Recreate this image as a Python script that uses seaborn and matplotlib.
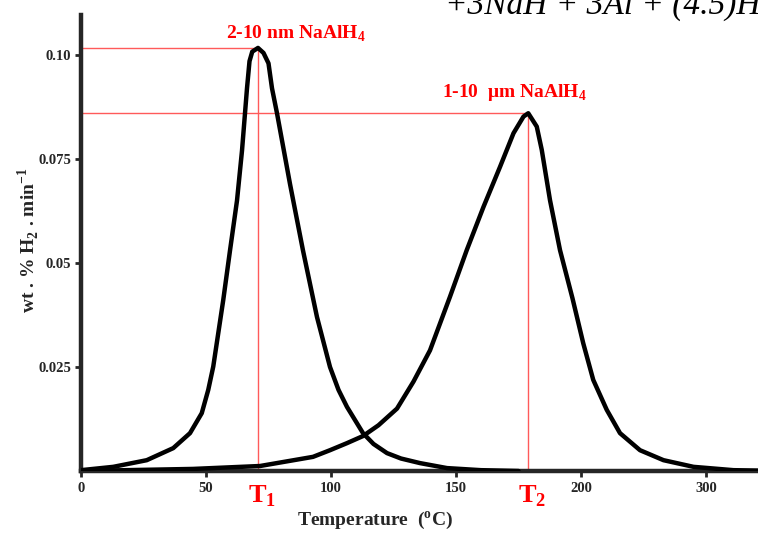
import numpy as np
import pandas as pd
import matplotlib
matplotlib.use("Agg")
import matplotlib.pyplot as plt
import seaborn as sns

# ---- data (x in plotted axis units) ----
temp_nano = [0, 12.9, 26.3, 36.9, 43.6, 48.3, 50.9, 52.9, 54.9, 56.9, 59.6,
             62.4, 64.4, 65.6, 66.4, 67.4, 68.5, 70.8, 73.0, 75.0, 76.4, 78.4,
             83.6, 88.8, 94.4, 99.6, 103.0, 106.4, 112.8, 117.0, 122.4, 128.0,
             135.6, 146.4, 160, 175]
rate_nano = [0.0002, 0.001, 0.0026, 0.0055, 0.0091, 0.0139, 0.0195, 0.0251,
             0.0331, 0.0411, 0.053, 0.065, 0.077, 0.086, 0.092, 0.0985, 0.1008,
             0.1017, 0.1005, 0.098, 0.092, 0.086, 0.069, 0.053, 0.037, 0.025,
             0.0195, 0.0154, 0.0091, 0.0065, 0.0043, 0.003, 0.0019, 0.0007,
             0.0002, 0.0]

temp_micro = [0, 44.8, 71.6, 92.8, 99.6, 106.4, 112.8, 119.0, 126.4, 133.0,
              139.6, 147.6, 154.3, 161.0, 167.6, 173.0, 177.0, 178.9, 182.3,
              184.3, 187.6, 191.6, 196.6, 200.9, 204.9, 210.3, 215.6, 223.6,
              233.0, 245.0, 261.0, 270.8]
rate_micro = [0.0, 0.0005, 0.0012, 0.0034, 0.005, 0.0067, 0.0084, 0.011, 0.015,
              0.0215, 0.029, 0.0419, 0.0531, 0.0635, 0.0731, 0.0812, 0.0852,
              0.086, 0.0828, 0.0772, 0.0651, 0.0531, 0.0415, 0.0307, 0.0219,
              0.0147, 0.0091, 0.005, 0.0026, 0.001, 0.0002, 0.0001]

peak_x = [70.8, 178.9]
peak_y = [0.1017, 0.0860]
peak_names = ["T$_\\mathbf{1}$", "T$_\\mathbf{2}$"]

xtick_pos = [0, 50, 100, 150, 200, 250]
xtick_lab = ["0", "50", "100", "150", "200", "300"]
ytick_pos = [0.025, 0.05, 0.075, 0.10]
ytick_lab = ["0.025", "0.05", "0.075", "0.10"]

# ---- style ----
sns.set_style("ticks")
plt.rcParams["font.family"] = ["Liberation Serif", "DejaVu Serif"]
plt.rcParams["font.weight"] = "bold"
plt.rcParams["mathtext.fontset"] = "custom"
plt.rcParams["mathtext.rm"] = "Liberation Serif:bold"
plt.rcParams["mathtext.bf"] = "Liberation Serif:bold"

fig = plt.figure(figsize=(7.58, 5.33), dpi=100)
ax = fig.add_axes([81 / 758, 62 / 533, 1 - 81 / 758, (471 - 15) / 533])

nano = pd.DataFrame({"temp": temp_nano, "rate": rate_nano})
micro = pd.DataFrame({"temp": temp_micro, "rate": rate_micro})
sns.lineplot(data=nano, x="temp", y="rate", color="black", lw=3.2, ax=ax,
             sort=False, zorder=3)
sns.lineplot(data=micro, x="temp", y="rate", color="black", lw=3.2, ax=ax,
             sort=False, zorder=3)

# red guide lines to the peaks
red = "#ff5a5a"
for px, py in zip(peak_x, peak_y):
    ax.plot([0, px], [py, py], color=red, lw=1, zorder=2)
    ax.plot([px, px], [0, py], color=red, lw=1, zorder=2)

ax.set_xlim(0, 270.8)
ax.set_ylim(0, (471 - 15) / 4160)
ax.set_xticks(xtick_pos)
ax.set_xticklabels(xtick_lab, fontsize=10.5, fontweight="bold")
ax.set_yticks(ytick_pos)
ax.set_yticklabels(ytick_lab, fontsize=10.5, fontweight="bold")
ax.tick_params(axis="both", length=4, width=2, pad=3)
ax.tick_params(axis="x", pad=4)
for s in ["top", "right"]:
    ax.spines[s].set_visible(False)
for s in ["left", "bottom"]:
    ax.spines[s].set_linewidth(3.2)
ax.set_xlabel("")
ax.set_ylabel("")

fig.text(375 / 758, 1 - 521 / 533, "Temperature  ($^\\mathbf{o}$C)", fontsize=14,
         fontweight="bold", ha="center", va="center")
fig.text(28 / 758, 1 - 240 / 533, "wt . % H$_\\mathbf{2}$ . min$^\\mathbf{-1}$",
         fontsize=14, fontweight="bold", ha="center", va="center", rotation=90)

# peak labels
ax.text(86, 0.1052, "2-10 nm NaAlH$_\\mathbf{4}$", color="red", fontsize=14,
        fontweight="bold", ha="center", va="center")
ax.text(173.2, 0.0911, "1-10  \u03bcm NaAlH$_\\mathbf{4}$", color="red",
        fontsize=14, fontweight="bold", ha="center", va="center")
for px, name in zip(peak_x, peak_names):
    ax.text(px + 1.5, -0.003, name, color="red", fontsize=19,
            fontweight="bold", ha="center", va="top")

# equation fragment at the top right, cut off by the top edge like the original
fig.text(445 / 758, (533 - 14) / 533, "+3NaH + 3Al + (4.5)H\u2082",
         fontsize=24, fontweight="normal", fontstyle="italic", ha="left",
         va="baseline", color="black")

fig.savefig("out.png", dpi=100)
